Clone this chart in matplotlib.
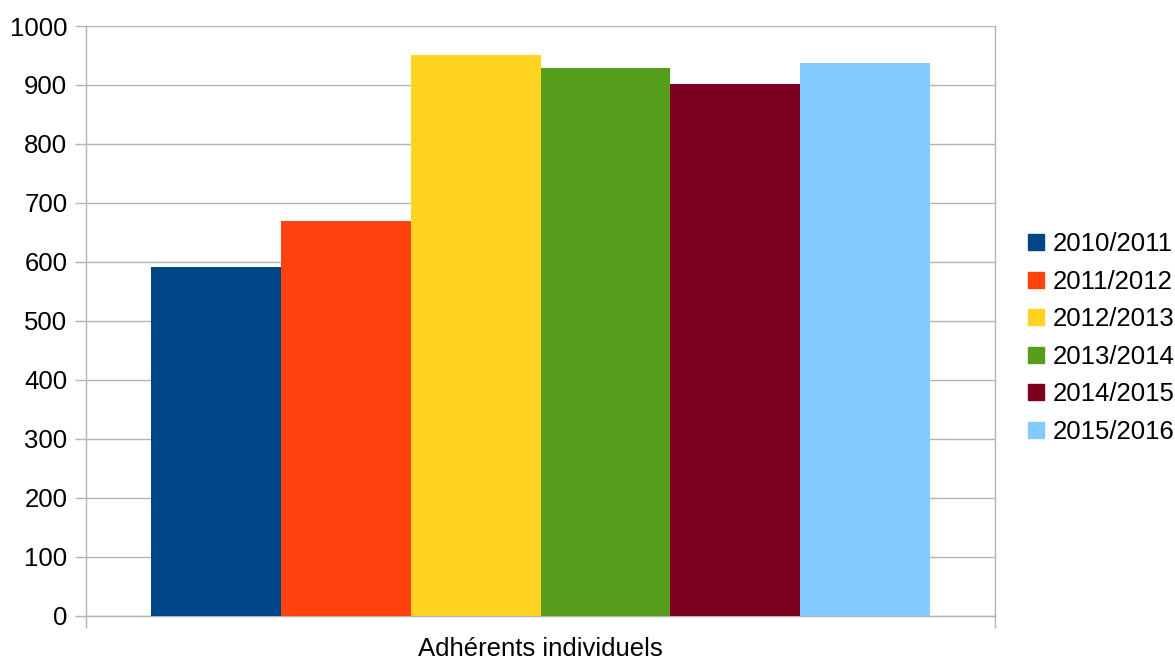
import matplotlib
matplotlib.use("Agg")
import matplotlib.pyplot as plt
from matplotlib.lines import Line2D

plt.rcParams['font.family'] = ['Liberation Sans', 'DejaVu Sans']

category = "Adhérents individuels"
seasons = ["2010/2011", "2011/2012", "2012/2013", "2013/2014", "2014/2015", "2015/2016"]
values = [591, 669, 951, 929, 902, 937]
colors = ["#004586", "#ff420e", "#ffd320", "#579d1c", "#7e0021", "#83caff"]
yticks = [0, 100, 200, 300, 400, 500, 600, 700, 800, 900, 1000]

FS = 18.5
fig = plt.figure(figsize=(11.75, 6.61), dpi=100)
ax = fig.add_axes([86/1175, 1 - 615.5/661, (995-86)/1175, (615.5-26)/661])

grid_c = "#b3b3b3"
positions = list(range(len(seasons)))
for i, (s, v, c) in enumerate(zip(seasons, values, colors)):
    ax.bar(positions[i], v, width=1.0, color=c, label=s, zorder=3, linewidth=0)

ax.set_xlim(-1, len(seasons))
ax.set_ylim(0, 1000)
ax.set_yticks(yticks)
ax.set_yticklabels([str(t) for t in yticks], fontsize=FS)
ax.yaxis.grid(True, color=grid_c, linewidth=1.0, zorder=0)
ax.tick_params(axis='y', length=8, width=1, color=grid_c, pad=5.5)
ax.set_xticks([-1, len(seasons)])
ax.set_xticklabels(["", ""])
ax.tick_params(axis='x', length=8.5, width=1, color=grid_c)
for sp in ax.spines.values():
    sp.set_color(grid_c)
    sp.set_linewidth(1.0)
ax.spines['top'].set_visible(False)

fig.text(540.5/1175, 1 - 649/661, category, ha='center', va='center', fontsize=FS)

handles = [Line2D([0], [0], marker='s', linestyle='none', markersize=11.5,
                  markerfacecolor=c, markeredgecolor=c) for c in colors]
leg = fig.legend(handles, seasons, loc='center left', bbox_to_anchor=(1026/1175, 1 - 338/661),
                 frameon=False, fontsize=FS, handlelength=0.75, handletextpad=0.28,
                 labelspacing=0.53, borderaxespad=0, borderpad=0)

fig.savefig("out.png", dpi=100)
